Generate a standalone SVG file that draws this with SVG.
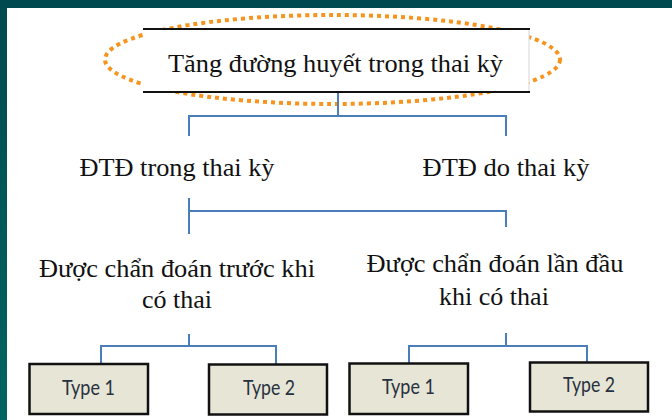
<svg xmlns="http://www.w3.org/2000/svg" width="672" height="420" viewBox="0 0 672 420">
<defs>
<linearGradient id="lg" x1="0" y1="0" x2="0" y2="1">
<stop offset="0" stop-color="#004a4f"/>
<stop offset="1" stop-color="#006462"/>
</linearGradient>
<style>
.serif{font-family:"Liberation Serif","Times New Roman",serif;font-size:26px;fill:#111;text-anchor:middle}
.conn{stroke:#4a7ebb;stroke-width:2;fill:none}
.tbox{fill:#e6e5d6;stroke:#111;stroke-width:2.5}
.ttxt{font-family:Lato,"Liberation Sans",sans-serif;font-size:21px;fill:#27313f;text-anchor:middle}
</style>
</defs>
<rect x="0" y="0" width="672" height="420" fill="#ffffff"/>
<rect x="0" y="0" width="672" height="8" fill="#004a4f"/>
<rect x="0" y="0" width="7" height="420" fill="url(#lg)"/>

<g id="root">
<ellipse cx="332.5" cy="59.5" rx="227.5" ry="44.5" fill="none" stroke="#f7941d" stroke-width="4" stroke-dasharray="4 4"/>
<rect x="143.5" y="29" width="385.5" height="63" fill="#ffffff"/>
<line x1="529" y1="29" x2="529" y2="92" stroke="#d6d6d6" stroke-width="1"/>
<line x1="143" y1="29" x2="530" y2="29" stroke="#111" stroke-width="2"/>
<line x1="143" y1="92" x2="530" y2="92" stroke="#111" stroke-width="2"/>
<text class="serif" x="335.5" y="71.5" textLength="335" lengthAdjust="spacingAndGlyphs">Tăng đường huyết trong thai kỳ</text>
</g>

<g id="connectors">
<polyline class="conn" points="338,93 338,116"/>
<polyline class="conn" points="189,136 189,116 506,116 506,136"/>
<polyline class="conn" points="189,198 189,234"/>
<polyline class="conn" points="189,211 506,211 506,227"/>
<polyline class="conn" points="189,334 189,346"/>
<polyline class="conn" points="101,364 101,346 276,346 276,364"/>
<polyline class="conn" points="506,333 506,346"/>
<polyline class="conn" points="409,363 409,346 587,346 587,362"/>
</g>

<g id="dtd-trong">
<text class="serif" x="177" y="176" textLength="195" lengthAdjust="spacingAndGlyphs">ĐTĐ trong thai kỳ</text>
</g>
<g id="dtd-do">
<text class="serif" x="506" y="176" textLength="167" lengthAdjust="spacingAndGlyphs">ĐTĐ do thai kỳ</text>
</g>
<g id="truoc-khi">
<text class="serif" x="177" y="277" textLength="276" lengthAdjust="spacingAndGlyphs">Được chẩn đoán trước khi</text>
<text class="serif" x="177" y="308">có thai</text>
</g>
<g id="lan-dau">
<text class="serif" x="495" y="272" textLength="257" lengthAdjust="spacingAndGlyphs">Được chẩn đoán lần đầu</text>
<text class="serif" x="494" y="305">khi có thai</text>
</g>

<g id="type1-a">
<rect class="tbox" x="29.5" y="364" width="118.5" height="50"/>
<text class="ttxt" x="88.5" y="395" textLength="53" lengthAdjust="spacingAndGlyphs">Type 1</text>
</g>
<g id="type2-a">
<rect class="tbox" x="209" y="364.5" width="118" height="50"/>
<text class="ttxt" x="269" y="395" textLength="52" lengthAdjust="spacingAndGlyphs">Type 2</text>
</g>
<g id="type1-b">
<rect class="tbox" x="349.5" y="363.5" width="118.5" height="50.5"/>
<text class="ttxt" x="408.5" y="394" textLength="53" lengthAdjust="spacingAndGlyphs">Type 1</text>
</g>
<g id="type2-b">
<rect class="tbox" x="530" y="362.5" width="118" height="49"/>
<text class="ttxt" x="589" y="392" textLength="52" lengthAdjust="spacingAndGlyphs">Type 2</text>
</g>
</svg>
